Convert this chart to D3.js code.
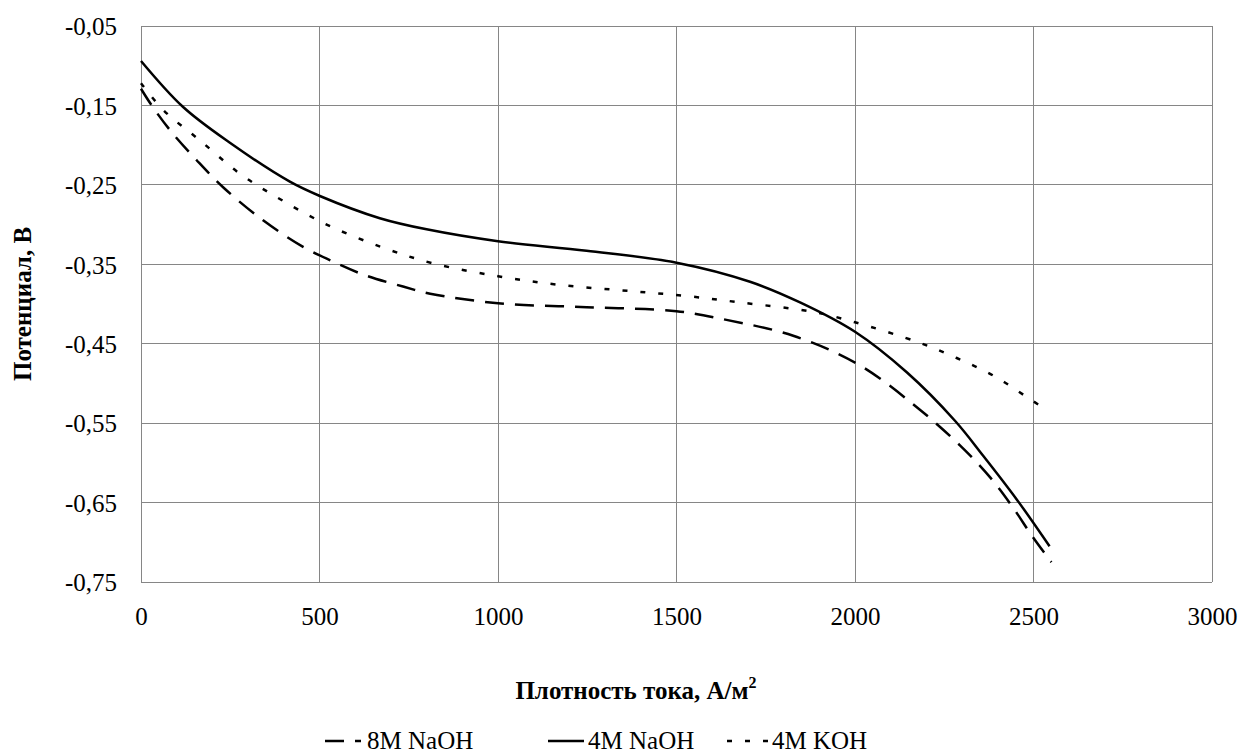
<!DOCTYPE html>
<html>
<head>
<meta charset="utf-8">
<script src="https://cdn.jsdelivr.net/npm/d3@7"></script>
<style>
  html, body { margin: 0; padding: 0; background: #fff; }
  svg { display: block; }
</style>
</head>
<body>
<svg id="chart" width="1244" height="756"></svg>
<script>
// ---- data ----
const xTicks = [0, 500, 1000, 1500, 2000, 2500, 3000];
const xTickLabels = ["0", "500", "1000", "1500", "2000", "2500", "3000"];
const yTicks = [-0.05, -0.15, -0.25, -0.35, -0.45, -0.55, -0.65, -0.75];
const yTickLabels = ["-0,05", "-0,15", "-0,25", "-0,35", "-0,45", "-0,55", "-0,65", "-0,75"];

const seriesNames = ["8M NaOH", "4M NaOH", "4M KOH"];

const naoh8X = [0, 30, 81, 156, 230, 343, 454, 530, 623, 734, 810, 1000, 1248, 1500, 1640, 1827, 2009, 2168, 2294, 2378, 2439, 2499, 2550];
const naoh8Y = [-0.129, -0.150, -0.181, -0.219, -0.253, -0.295, -0.328, -0.345, -0.363, -0.378, -0.387, -0.399, -0.404, -0.409, -0.420, -0.440, -0.476, -0.528, -0.578, -0.618, -0.654, -0.694, -0.725];

const naoh4X = [0, 118, 249, 417, 501, 669, 800, 1000, 1248, 1500, 1706, 1846, 2000, 2145, 2280, 2359, 2453, 2545];
const naoh4Y = [-0.094, -0.152, -0.197, -0.246, -0.264, -0.292, -0.306, -0.321, -0.333, -0.348, -0.372, -0.398, -0.435, -0.486, -0.547, -0.591, -0.646, -0.705];

const koh4X = [0, 63, 165, 277, 371, 520, 678, 819, 1000, 1174, 1379, 1529, 1678, 1883, 2000, 2182, 2285, 2387, 2481, 2535];
const koh4Y = [-0.122, -0.156, -0.194, -0.236, -0.263, -0.300, -0.329, -0.349, -0.365, -0.376, -0.384, -0.390, -0.398, -0.410, -0.423, -0.449, -0.468, -0.490, -0.517, -0.533];

// ---- layout ----
const svg = d3.select("#chart");
const plot = { left: 141, right: 1212, top: 26, bottom: 582 };
const x = d3.scaleLinear().domain([0, 3000]).range([plot.left, plot.right]);
const y = d3.scaleLinear().domain([-0.75, -0.05]).range([plot.bottom, plot.top]);

const gridColor = "#868686";
const serif = '"Liberation Serif", "Times New Roman", serif';

// grid
const g = svg.append("g");
g.selectAll("line.vg").data(xTicks).enter().append("line")
  .attr("x1", d => x(d)).attr("x2", d => x(d))
  .attr("y1", plot.top).attr("y2", plot.bottom)
  .attr("stroke", gridColor).attr("stroke-width", 1).attr("shape-rendering", "crispEdges");
g.selectAll("line.hg").data(yTicks).enter().append("line")
  .attr("x1", plot.left).attr("x2", plot.right)
  .attr("y1", d => y(d)).attr("y2", d => y(d))
  .attr("stroke", gridColor).attr("stroke-width", 1).attr("shape-rendering", "crispEdges");

// axes (labels only)
const xAxis = d3.axisBottom(x).tickValues(xTicks)
  .tickFormat((d, i) => xTickLabels[i]).tickSize(0).tickPadding(43);
const xg = svg.append("g").attr("transform", `translate(0,${plot.bottom})`).call(xAxis);
xg.attr("font-family", null).attr("font-size", null);
xg.select(".domain").remove();
xg.selectAll("text").style("font-size", "25px").attr("fill", "#000")
  .style("font-family", serif).attr("dy", "0");

const yAxis = d3.axisLeft(y).tickValues(yTicks)
  .tickFormat((d, i) => yTickLabels[i]).tickSize(0).tickPadding(24);
const yg = svg.append("g").attr("transform", `translate(${plot.left},0)`).call(yAxis);
yg.attr("font-family", null).attr("font-size", null);
yg.select(".domain").remove();
yg.selectAll("text").style("font-size", "25px").attr("fill", "#000")
  .style("font-family", serif).attr("dy", "0.35em");

// lines
const line = d3.line().x(d => x(d[0])).y(d => y(d[1])).curve(d3.curveCatmullRom.alpha(0.5));
const styles = [
  { dash: "19,11" },
  { dash: null },
  { dash: "5,13" }
];
const dataSets = [
  d3.zip(naoh8X, naoh8Y),
  d3.zip(naoh4X, naoh4Y),
  d3.zip(koh4X, koh4Y)
];
dataSets.forEach((ds, i) => {
  const p = svg.append("path").datum(ds)
    .attr("d", line).attr("fill", "none")
    .attr("stroke", "#000").attr("stroke-width", 2.5);
  if (styles[i].dash) p.attr("stroke-dasharray", styles[i].dash);
});

// axis titles
const xt = svg.append("text")
  .attr("x", 636).attr("y", 699)
  .attr("text-anchor", "middle").style("font-size", "25px").attr("font-weight", "bold")
  .style("font-family", serif);
xt.append("tspan").text("Плотность тока, А/м");
xt.append("tspan").text("2").style("font-size", "16px").attr("dy", -11);

svg.append("text")
  .attr("transform", "translate(31,304) rotate(-90)")
  .attr("text-anchor", "middle").style("font-size", "25px").attr("font-weight", "bold")
  .style("font-family", serif)
  .text("Потенциал, В");

// legend
const legendY = 745;
const legendItems = [
  { x1: 325, x2: 361, tx: 367 },
  { x1: 548, x2: 584, tx: 588 },
  { x1: 727, x2: 769, tx: 772 }
];
const lg = svg.append("g");
legendItems.forEach((it, i) => {
  const l = lg.append("line")
    .attr("x1", it.x1).attr("x2", it.x2).attr("y1", legendY - 4).attr("y2", legendY - 4)
    .attr("stroke", "#000").attr("stroke-width", 2.5);
  if (styles[i].dash) l.attr("stroke-dasharray", styles[i].dash);
  lg.append("text").attr("x", it.tx).attr("y", legendY + 4)
    .style("font-size", "25px").style("font-family", serif)
    .text(seriesNames[i]);
});
</script>
</body>
</html>
